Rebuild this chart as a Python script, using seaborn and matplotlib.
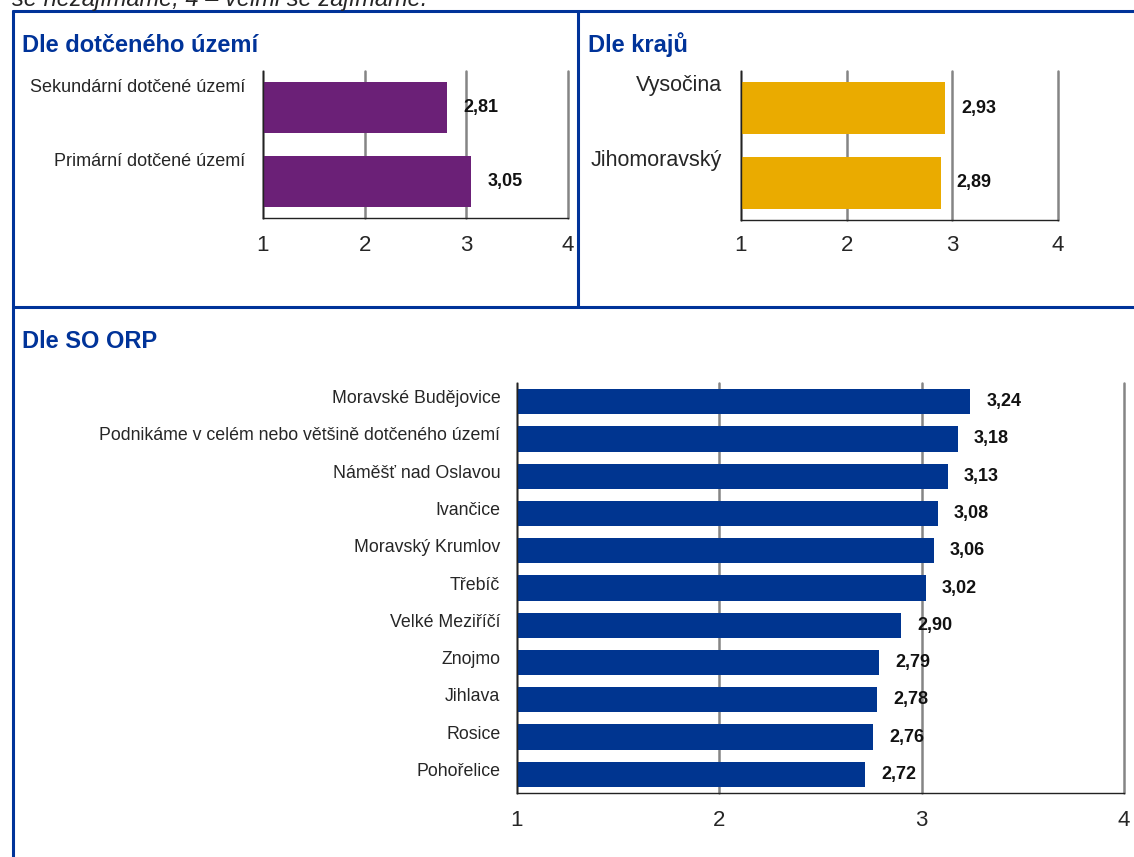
import numpy as np
import matplotlib
matplotlib.use('Agg')
import matplotlib.pyplot as plt
from matplotlib.lines import Line2D
from matplotlib.transforms import ScaledTranslation
import seaborn as sns

# data
uzemi_kat = ['Sekundární dotčené území', 'Primární dotčené území']
uzemi_val = [2.81, 3.05]

kraje_kat = ['Vysočina', 'Jihomoravský']
kraje_val = [2.93, 2.89]

orp_kat = ['Moravské Budějovice', 'Podnikáme v celém nebo většině dotčeného území',
           'Náměšť nad Oslavou', 'Ivančice', 'Moravský Krumlov', 'Třebíč',
           'Velké Meziříčí', 'Znojmo', 'Jihlava', 'Rosice', 'Pohořelice']
orp_val = [3.24, 3.18, 3.13, 3.08, 3.06, 3.02, 2.90, 2.79, 2.78, 2.76, 2.72]

x_ticks = [1, 2, 3, 4]

sns.set_style('white')
plt.rcParams['font.family'] = ['Liberation Sans', 'DejaVu Sans']

NAVY = '#003399'
W, H = 1134, 857

fig = plt.figure(figsize=(W / 100, H / 100), dpi=100)


def panel(box, kat, val, color, lab_size, val_size, lab_dy, pad_lab, bar_w, xpad):
    x0, y0, x1, y1 = box
    ax = fig.add_axes([x0 / W, 1 - y1 / H, (x1 - x0) / W, (y1 - y0) / H])
    sns.barplot(x=val, y=kat, orient='h', color=color, width=bar_w,
                saturation=1, linewidth=0, ax=ax)
    n = len(kat)
    ax.set_xlim(1, 4)
    ax.set_ylim(n - 0.5, -0.5)
    ax.set_xticks(x_ticks)
    ax.set_xticklabels([str(t) for t in x_ticks], fontsize=16)
    ax.set_yticks(np.arange(n + 1) - 0.5, minor=True)
    ax.tick_params(axis='y', which='major', length=0, pad=pad_lab)
    ax.tick_params(axis='y', which='minor', length=4.5, width=1, color='#222222')
    ax.tick_params(axis='x', length=4.5, width=1.2, color='#666666', pad=xpad)
    for lab in ax.get_yticklabels():
        lab.set_fontsize(lab_size)
        lab.set_transform(lab.get_transform() + ScaledTranslation(0, lab_dy / 100, fig.dpi_scale_trans))
    ax.grid(axis='x', color='#858585', linewidth=1.8)
    ax.grid(axis='y', visible=False)
    for gl in ax.get_xgridlines():
        gl.set_clip_on(False)
    ax.set_axisbelow(True)
    for s in ['top', 'right']:
        ax.spines[s].set_visible(False)
    for s in ['left', 'bottom']:
        ax.spines[s].set_color('#222222')
        ax.spines[s].set_linewidth(1)
    ax.set_xlabel('')
    ax.set_ylabel('')
    labels = [f'{v:.2f}'.replace('.', ',') for v in val]
    ax.bar_label(ax.containers[0], labels=labels, padding=11.5,
                 fontsize=val_size, fontweight='bold', color='#111111')
    return ax


ax1 = panel((263, 71, 568, 218), uzemi_kat, uzemi_val, '#6B2077', 13, 13, 22, 13, 0.7, 7.5)
ax2 = panel((741, 71, 1058, 220), kraje_kat, kraje_val, '#EAAB00', 15.5, 13, 25, 13.5, 0.7, 6.5)
ax3 = panel((517, 383, 1124, 793), orp_kat, orp_val, '#003590', 12.8, 13, 5, 12, 0.68, 8)

# titles
fig.text(22 / W, 1 - 45 / H, 'Dle dotčeného území', color=NAVY, fontsize=17,
         fontweight='bold', va='center', ha='left')
fig.text(588 / W, 1 - 45 / H, 'Dle krajů', color=NAVY, fontsize=17,
         fontweight='bold', va='center', ha='left')
fig.text(22 / W, 1 - 341 / H, 'Dle SO ORP', color=NAVY, fontsize=17,
         fontweight='bold', va='center', ha='left')

# clipped note on the top
fig.text(12 / W, 1 - 6 / H, 'se nezajímáme, 4 – velmi se zajímáme.', fontsize=17,
         style='italic', va='baseline', ha='left')

# frame
def fline(x0, y0, x1, y1):
    fig.add_artist(Line2D([x0 / W, x1 / W], [1 - y0 / H, 1 - y1 / H],
                          transform=fig.transFigure, color=NAVY, lw=2.2))

fline(13, 11, W, 11)
fline(13, 11, 13, H)
fline(578, 11, 578, 307)
fline(13, 307, W, 307)

fig.savefig('out.png', dpi=100)
